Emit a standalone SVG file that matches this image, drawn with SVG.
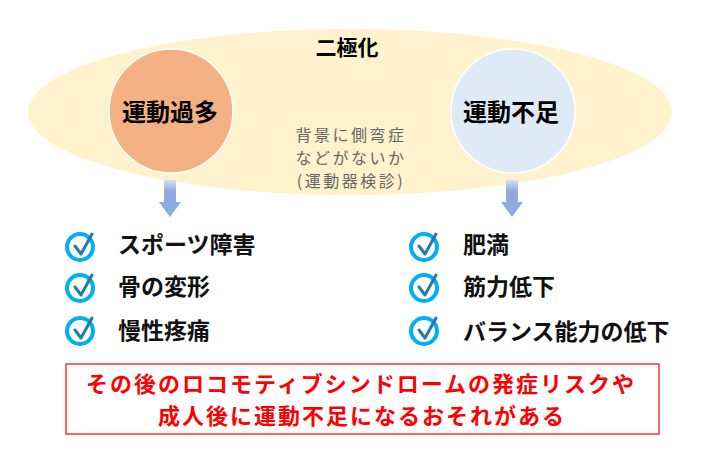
<svg xmlns="http://www.w3.org/2000/svg" width="709" height="452" viewBox="0 0 709 452">
<defs>
<style>
text{font-family:"Noto Sans CJK JP","Noto Sans",sans-serif;dominant-baseline:central}
.lbl{font-size:24px;font-weight:bold;fill:#000;text-anchor:middle}
.title{font-size:21px;font-weight:bold;fill:#000;text-anchor:middle}
.note{font-size:16px;fill:#666;text-anchor:middle;letter-spacing:2.5px}
.item{font-size:23px;font-weight:bold;fill:#111}
.warn{font-size:22px;font-weight:bold;fill:#FF0000;text-anchor:middle;letter-spacing:2px}
.ring{fill:#fff;stroke:#00B0F0;stroke-width:4}
.tick{fill:none;stroke:#2878A8;stroke-width:3;stroke-linecap:round;stroke-linejoin:round}
</style>
<linearGradient id="shaft" x1="0" y1="0" x2="0" y2="1">
<stop offset="0" stop-color="#D6E0F3"/>
<stop offset="0.3" stop-color="#8FAADC"/>
<stop offset="1" stop-color="#8FAADC"/>
</linearGradient>
<g id="chk">
<circle class="ring" cx="0" cy="0" r="13"/>
<path class="tick" d="M-5,-1 L1,7 L12,-13"/>
</g>
</defs>
<rect width="709" height="452" fill="#fff"/>
<g id="background">
<ellipse cx="350" cy="112" rx="322" ry="83" fill="#FFF2CC"/>
<text class="title" x="347" y="46">二極化</text>
<text class="note" x="351" y="134">背景に側弯症</text>
<text class="note" x="351" y="157">などがないか</text>
<text class="note" x="351" y="180">(運動器検診)</text>
</g>
<g id="node-excess">
<circle cx="171" cy="111" r="62" fill="#F4B183" stroke="#fff" stroke-width="1.5"/>
<text class="lbl" x="170" y="110">運動過多</text>
</g>
<g id="node-lack">
<circle cx="513" cy="111" r="62" fill="#DEEBF7" stroke="#fff" stroke-width="1.5"/>
<text class="lbl" x="511" y="110">運動不足</text>
</g>
<g id="connectors">
<path d="M164,180 H176 V202 H181 L170,217 L159,202 H164 Z" fill="url(#shaft)"/>
<path d="M506,180 H518 V202 H523 L512,217 L501,202 H506 Z" fill="url(#shaft)"/>
</g>
<g id="list-excess">
<use href="#chk" x="80" y="247"/>
<use href="#chk" x="80" y="288"/>
<use href="#chk" x="80" y="331"/>
<text class="item" x="118" y="243">スポーツ障害</text>
<text class="item" x="118" y="285">骨の変形</text>
<text class="item" x="118" y="329">慢性疼痛</text>
</g>
<g id="list-lack">
<use href="#chk" x="424" y="247"/>
<use href="#chk" x="424" y="288"/>
<use href="#chk" x="424" y="331"/>
<text class="item" x="463" y="243">肥満</text>
<text class="item" x="463" y="285">筋力低下</text>
<text class="item" x="463" y="330">バランス能力の低下</text>
</g>
<g id="warning">
<rect x="66" y="364" width="593" height="70" fill="#fff" stroke="#FF3333" stroke-width="1.5"/>
<text class="warn" x="361" y="382">その後のロコモティブシンドロームの発症リスクや</text>
<text class="warn" x="362" y="414">成人後に運動不足になるおそれがある</text>
</g>
</svg>
